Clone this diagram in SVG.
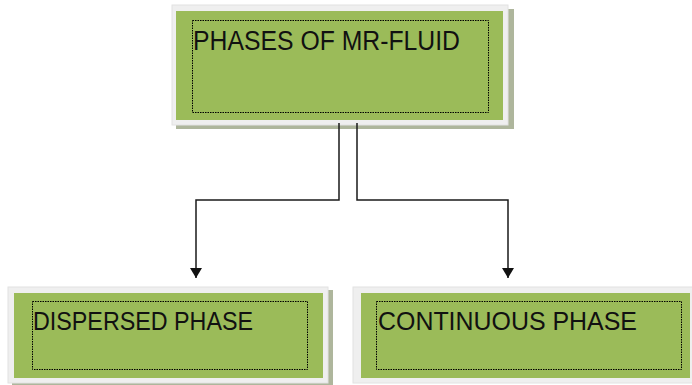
<svg xmlns="http://www.w3.org/2000/svg" width="692" height="385" viewBox="0 0 692 385">
<defs>
<style>
.frame{fill:#efefef;stroke:#e2e2e2;stroke-width:1}
.shadow{fill:#aeb69c}
.fill{fill:#9bbb59}
.dot{fill:none;stroke:#000;stroke-width:1;stroke-dasharray:1.5 1}
.lbl{font-family:"Liberation Sans",Arial,sans-serif;fill:#111}
.conn{fill:none;stroke:#1a1a1a;stroke-width:1.5}
</style>
<marker id="arr" viewBox="0 0 10 12" refX="10" refY="6" markerWidth="10" markerHeight="12" markerUnits="userSpaceOnUse" orient="auto">
<path d="M0,0 L10,6 L0,12 Z" fill="#111"/>
</marker>
</defs>
<rect width="692" height="385" fill="#ffffff"/>
<g id="node-top">
<rect class="shadow" x="176" y="9" width="338" height="120"/>
<rect class="frame" x="172" y="5" width="336" height="120"/>
<rect class="fill" x="176" y="11" width="327" height="109"/>
<rect class="dot" x="192.5" y="20.5" width="296" height="92"/>
<text class="lbl" x="193" y="50" font-size="27" textLength="267" lengthAdjust="spacingAndGlyphs">PHASES OF MR-FLUID</text>
</g>
<g id="node-dispersed">
<rect class="shadow" x="12" y="290" width="321" height="95"/>
<rect class="frame" x="8" y="287" width="320" height="96"/>
<rect class="fill" x="14" y="293" width="309" height="85"/>
<rect class="dot" x="32.5" y="301.5" width="275" height="68"/>
<text class="lbl" x="33" y="330" font-size="25" textLength="220" lengthAdjust="spacingAndGlyphs">DISPERSED PHASE</text>
</g>
<g id="node-continuous">
<rect class="frame" x="353" y="287" width="345" height="96"/>
<rect class="fill" x="361" y="293" width="329" height="85"/>
<rect class="dot" x="376.5" y="301.5" width="305" height="68"/>
<text class="lbl" x="378" y="330" font-size="25" textLength="259" lengthAdjust="spacingAndGlyphs">CONTINUOUS PHASE</text>
</g>
<g id="connectors">
<path class="conn" d="M339,123 V200 H196 V278" marker-end="url(#arr)"/>
<path class="conn" d="M357,123 V200 H508 V278" marker-end="url(#arr)"/>
</g>
</svg>
